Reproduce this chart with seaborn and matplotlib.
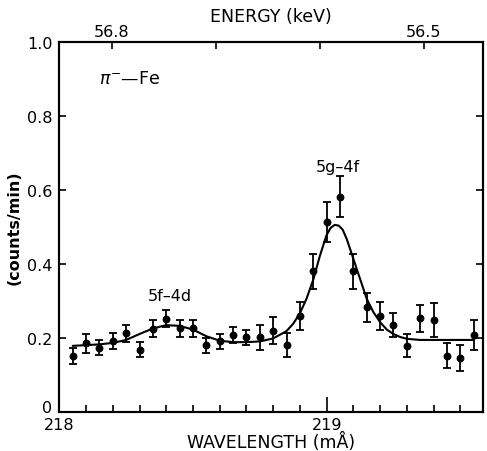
import numpy as np
import pandas as pd
import matplotlib
matplotlib.use("Agg")
import matplotlib.pyplot as plt
import matplotlib.transforms as mtransforms
import seaborn as sns

# ---- data ----
wavelength = [218.05, 218.10, 218.15, 218.20, 218.25, 218.30, 218.35, 218.40,
              218.45, 218.50, 218.55, 218.60, 218.65, 218.70, 218.75, 218.80,
              218.85, 218.90, 218.95, 219.00, 219.05, 219.10, 219.15, 219.20,
              219.25, 219.30, 219.35, 219.40, 219.45, 219.50, 219.55]
counts = [0.151, 0.185, 0.173, 0.192, 0.212, 0.168, 0.224, 0.251,
          0.225, 0.225, 0.179, 0.190, 0.207, 0.201, 0.201, 0.219,
          0.181, 0.259, 0.379, 0.514, 0.581, 0.379, 0.282, 0.259,
          0.235, 0.178, 0.252, 0.249, 0.151, 0.145, 0.207]
errors = [0.021, 0.025, 0.020, 0.022, 0.023, 0.020, 0.023, 0.023,
          0.023, 0.023, 0.019, 0.020, 0.022, 0.021, 0.034, 0.036,
          0.032, 0.037, 0.046, 0.054, 0.055, 0.048, 0.039, 0.037,
          0.033, 0.031, 0.037, 0.046, 0.034, 0.034, 0.041]

fit_wavelength = [218.05, 218.10, 218.15, 218.20, 218.25, 218.30, 218.35, 218.40,
                  218.45, 218.50, 218.55, 218.60, 218.65, 218.70, 218.75, 218.80,
                  218.85, 218.875, 218.90, 218.925, 218.95, 218.975, 219.00, 219.015,
                  219.03, 219.045, 219.06, 219.075, 219.09, 219.10, 219.125, 219.15,
                  219.175, 219.20, 219.225, 219.25, 219.275, 219.30, 219.35,
                  219.40, 219.45, 219.50, 219.55]
fit_counts = [0.178, 0.180, 0.182, 0.186, 0.194, 0.210, 0.225, 0.234,
              0.232, 0.222, 0.204, 0.192, 0.188, 0.188, 0.190, 0.198,
              0.218, 0.238, 0.266, 0.306, 0.357, 0.422, 0.478, 0.497,
              0.505, 0.503, 0.492, 0.467, 0.435, 0.413, 0.359, 0.305,
              0.269, 0.242, 0.222, 0.210, 0.202, 0.197, 0.194,
              0.194, 0.194, 0.194, 0.194]

energy_tick_labels = ["56.8", "", "", "56.5"]
energy_tick_wavelength = [218.197, 218.586, 218.975, 219.364]

y_ticks = [0, 0.2, 0.4, 0.6, 0.8, 1.0]
y_tick_labels = ["0", "0.2", "0.4", "0.6", "0.8", "1.0"]

# ---- plotting ----
sns.set_style("ticks", rc={"axes.edgecolor": "black", "text.color": "black",
                           "axes.labelcolor": "black", "xtick.color": "black",
                           "ytick.color": "black"})
plt.rcParams["font.family"] = ["DejaVu Sans"]

df = pd.DataFrame({"wavelength": wavelength, "counts": counts, "err": errors})
fit = pd.DataFrame({"wavelength": fit_wavelength, "counts": fit_counts})

fig = plt.figure(figsize=(4.87, 4.52), dpi=100)
ax = fig.add_axes([0.1218, 0.0869, 0.8706, 0.8186])

ax.errorbar(df["wavelength"], df["counts"], yerr=df["err"], fmt="none",
            ecolor="black", elinewidth=1.3, capsize=3.2, capthick=1.3, zorder=2)
sns.lineplot(data=fit, x="wavelength", y="counts", ax=ax, color="black",
             linewidth=1.5, zorder=3)
sns.scatterplot(data=df, x="wavelength", y="counts", ax=ax, color="black",
                s=32, edgecolor="black", linewidth=0, zorder=4)

ax.set_xlim(218.0, 219.586)
ax.set_ylim(0, 1.0)
ax.set_xlabel("WAVELENGTH (mÅ)", fontsize=12.5, labelpad=0)
ax.set_ylabel("(counts/min)", fontsize=11.5, fontweight="bold")
ax.yaxis.set_label_coords(-0.09, 0.5)

ax.set_xticks([218, 219])
ax.set_xticklabels(["218", "219"], fontsize=11.5)
ax.set_xticks(np.arange(218.1, 219.59, 0.1), minor=True)
ax.set_yticks(y_ticks)
ax.set_yticklabels(y_tick_labels, fontsize=11.5)

ax.tick_params(axis="x", which="major", direction="in", length=11, width=1.2,
               pad=4, top=False)
ax.tick_params(axis="x", which="minor", direction="in", length=5, width=1.2,
               top=False)
ax.tick_params(axis="y", which="major", direction="in", length=5, width=1.2,
               pad=5, right=True)

# lift the "0" label slightly so it clears the "218" label (as in the reference)
zero_label = ax.get_yticklabels()[0]
zero_label.set_transform(zero_label.get_transform() +
                         mtransforms.ScaledTranslation(0, 4 / 72, fig.dpi_scale_trans))

for sp in ax.spines.values():
    sp.set_linewidth(1.5)
    sp.set_visible(True)

# top energy axis
ax2 = ax.twiny()
ax2.set_xlim(ax.get_xlim())
ax2.set_xticks(energy_tick_wavelength)
ax2.set_xticklabels(energy_tick_labels, fontsize=11.5)
ax2.tick_params(axis="x", direction="in", length=5, width=1.2, pad=2)
ax2.set_xlabel("ENERGY (keV)", fontsize=12.5, labelpad=2)
for sp in ax2.spines.values():
    sp.set_linewidth(1.5)

# annotations
ax.text(218.149, 0.903, r"$\pi^{-}$" + "\u2014Fe", fontsize=12.5, ha="left", va="center")
ax.text(218.415, 0.315, "5f\u20134d", fontsize=11.5, ha="center", va="center")
ax.text(219.043, 0.664, "5g\u20134f", fontsize=11.5, ha="center", va="center")

fig.savefig("out.png", dpi=100)
